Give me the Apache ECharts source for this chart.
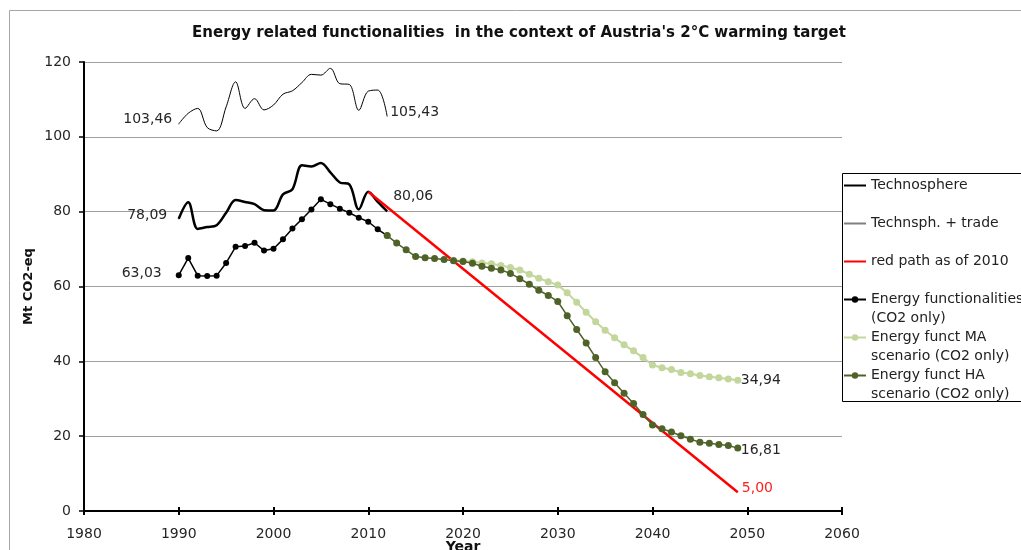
<!DOCTYPE html>
<html>
<head>
<meta charset="utf-8">
<script src="https://cdn.jsdelivr.net/npm/echarts@6/dist/echarts.min.js"></script>
<style>
  html, body { margin: 0; padding: 0; background: #fff; }
  #chart { width: 1021px; height: 550px; }
</style>
</head>
<body>
<div id="chart"></div>
<script>
// values
var histYears = [1990, 1991, 1992, 1993, 1994, 1995, 1996, 1997, 1998, 1999, 2000,
  2001, 2002, 2003, 2004, 2005, 2006, 2007, 2008, 2009, 2010, 2011, 2012];
var technosphere = [78.09, 82.5, 75.4, 75.9, 76.4, 79.7, 83.1, 82.6, 82.0, 80.4, 80.3,
  84.6, 86.0, 92.4, 92.1, 93.0, 90.5, 87.8, 87.3, 80.6, 85.3, 82.6, 80.06];
var technTrade = [103.46, 106.3, 107.6, 102.5, 101.6, 108.0, 114.7, 107.6, 110.2, 107.2, 108.5,
  111.4, 112.3, 114.5, 116.7, 116.5, 118.3, 114.2, 114.0, 107.1, 112.2, 112.5, 105.43];
var energyFunc = [63.03, 67.6, 62.9, 62.8, 62.9, 66.3, 70.6, 70.8, 71.7, 69.6, 70.1,
  72.6, 75.5, 78.0, 80.6, 83.3, 82.0, 80.8, 79.7, 78.4, 77.3, 75.3, 73.6];

var redYears = [2010, 2049];
var redPath = [85.3, 5.00];

var haStart = 2012;
var energyHA = [73.6, 71.6, 69.8, 68.0, 67.7, 67.5, 67.2, 66.9, 66.7, 66.2,
  65.4, 64.9, 64.4, 63.5, 62.1, 60.6, 59.0, 57.6, 56.0, 52.2,
  48.5, 44.9, 41.0, 37.2, 34.3, 31.5, 28.7, 25.8, 23.0, 22.0,
  21.1, 20.1, 19.2, 18.4, 18.1, 17.8, 17.5, 16.81];
var maStart = 2019;
var energyMA = [67.0, 66.8, 66.6, 66.3, 66.1, 65.6, 65.1, 64.4, 63.3, 62.2,
  61.3, 60.4, 58.3, 55.8, 53.1, 50.6, 48.3, 46.3, 44.4, 42.8,
  41.0, 39.0, 38.3, 37.8, 37.0, 36.7, 36.2, 35.9, 35.6, 35.3, 34.94];

var seriesNames = ['Technosphere', 'Technsph. + trade', 'red path as of 2010',
  'Energy functionalities (CO2 only)', 'Energy funct MA scenario (CO2 only)',
  'Energy funct HA scenario (CO2 only)'];
var legendLines = {
  'Technosphere': ['Technosphere', ' '],
  'Technsph. + trade': ['Technsph. + trade', ' '],
  'red path as of 2010': ['red path as of 2010', ' '],
  'Energy functionalities (CO2 only)': ['Energy functionalities', '(CO2 only)'],
  'Energy funct MA scenario (CO2 only)': ['Energy funct MA', 'scenario (CO2 only)'],
  'Energy funct HA scenario (CO2 only)': ['Energy funct HA', 'scenario (CO2 only)']
};
// series drawn as plain lines get no dot in the legend
var noDot = { 'Technosphere': 1, 'Technsph. + trade': 1, 'red path as of 2010': 1 };

var FONT = 'DejaVu Sans';

function fmt(v) { return v.toFixed(2).replace('.', ','); }

function pairs(years, vals) {
  return vals.map(function (v, i) { return [years[i], v]; });
}
function fromStart(start, vals) {
  return vals.map(function (v, i) { return [start + i, v]; });
}
// put a label on the first point of a series
function withStartLabel(data, lab, tinySymbol) {
  var first = { value: data[0], label: lab };
  if (tinySymbol) { first.symbol = 'circle'; first.symbolSize = 1; }
  return [first].concat(data.slice(1));
}

var labelBase = { show: false, fontFamily: FONT, fontSize: 14, color: '#262626',
  formatter: function (p) { return fmt(p.value[1]); } };

var chart = echarts.init(document.getElementById('chart'));

var option = {
  animation: false,
  backgroundColor: '#fff',
  title: {
    text: "Energy related functionalities  in the context of Austria's 2°C warming target",
    left: 519, top: 26, textAlign: 'center', padding: 0,
    textStyle: { fontFamily: FONT, fontWeight: 'bold', fontSize: 15, color: '#111' }
  },
  graphic: [
    { type: 'rect', z: -10, shape: { x: 9.5, y: 10.5, width: 1200, height: 700 },
      style: { fill: 'none', stroke: '#a6a6a6', lineWidth: 1 } },
    { type: 'rect', shape: { x: 842.5, y: 173.5, width: 300, height: 228 },
      style: { fill: 'none', stroke: '#000', lineWidth: 1 } }
  ],
  legend: {
    orient: 'vertical',
    left: 843, top: 157,
    padding: 0,
    itemWidth: 22, itemHeight: 8, itemGap: -19,
    data: seriesNames.map(function (n) {
      if (!noDot[n]) return { name: n };
      var item = { name: n, itemStyle: { opacity: 0 } };
      if (n === 'Technsph. + trade') item.lineStyle = { color: '#7f7f7f', width: 2 };
      return item;
    }),
    textStyle: { fontFamily: FONT, fontSize: 14, lineHeight: 19, color: '#222' },
    formatter: function (name) {
      var l = legendLines[name];
      return ' \n' + l[0] + '\n' + l[1];
    }
  },
  grid: { left: 84, right: 179, top: 62, bottom: 39, containLabel: false, outerBoundsMode: 'none' },
  xAxis: [{
    type: 'value', min: 1980, max: 2060, interval: 10,
    name: 'Year', nameLocation: 'middle', nameGap: 29, nameMoveOverlap: false,
    nameTextStyle: { fontFamily: FONT, fontWeight: 'bold', fontSize: 14, color: '#111' },
    axisLine: { lineStyle: { color: '#000', width: 2 } },
    axisTick: { length: 4, lineStyle: { color: '#000', width: 2 } },
    axisLabel: { fontFamily: FONT, fontSize: 14, color: '#262626', margin: 16,
      formatter: function (v) { return String(v); } },
    splitLine: { show: false }
  }, {
    type: 'value', min: 1980, max: 2060, interval: 10, position: 'bottom',
    axisLine: { show: false },
    axisTick: { inside: true, length: 4, lineStyle: { color: '#000', width: 2 } },
    axisLabel: { show: false },
    splitLine: { show: false }
  }],
  yAxis: {
    type: 'value', min: 0, max: 120, interval: 20,
    name: 'Mt CO2-eq', nameLocation: 'middle', nameGap: 49, nameMoveOverlap: false,
    nameTextStyle: { fontFamily: FONT, fontWeight: 'bold', fontSize: 13, color: '#111' },
    axisLine: { show: true, lineStyle: { color: '#000', width: 2 } },
    axisTick: { show: true, length: 5, lineStyle: { color: '#000', width: 1.5 } },
    axisLabel: { fontFamily: FONT, fontSize: 14, color: '#262626', margin: 13 },
    splitLine: { lineStyle: { color: '#a0a0a0', width: 1 } }
  },
  series: [
    {
      name: seriesNames[0], type: 'line', smooth: 0.35, symbol: 'none',
      lineStyle: { color: '#000', width: 2.5 }, itemStyle: { color: '#000' },
      label: labelBase,
      data: withStartLabel(pairs(histYears, technosphere),
        { show: true, position: 'left', distance: 11, offset: [0, -3] }, true),
      endLabel: { show: true, fontFamily: FONT, fontSize: 14, color: '#262626', distance: 6,
        offset: [0, -15], formatter: function (p) { return fmt(p.value[1]); } },
      z: 3
    },
    {
      name: seriesNames[1], type: 'line', smooth: 0.35, symbol: 'none',
      lineStyle: { color: '#000', width: 1 }, itemStyle: { color: '#7f7f7f' },
      label: labelBase,
      data: withStartLabel(pairs(histYears, technTrade),
        { show: true, position: 'left', distance: 6, offset: [0, -5] }, true),
      endLabel: { show: true, fontFamily: FONT, fontSize: 14, color: '#262626', distance: 3,
        offset: [0, -4], formatter: function (p) { return fmt(p.value[1]); } },
      z: 3
    },
    {
      name: seriesNames[2], type: 'line', symbol: 'none',
      lineStyle: { color: '#ff0000', width: 2.5 }, itemStyle: { color: '#ff0000' },
      data: pairs(redYears, redPath),
      endLabel: { show: true, fontFamily: FONT, fontSize: 14, color: '#ff2020', distance: 4,
        offset: [0, -4], formatter: function (p) { return fmt(p.value[1]); } },
      z: 3
    },
    {
      name: seriesNames[3], type: 'line', symbol: 'circle', symbolSize: 6,
      lineStyle: { color: '#000', width: 1.5 }, itemStyle: { color: '#000' },
      label: labelBase,
      data: withStartLabel(pairs(histYears, energyFunc),
        { show: true, position: 'left', distance: 14, offset: [0, -2] }, false),
      z: 4
    },
    {
      name: seriesNames[4], type: 'line', symbol: 'circle', symbolSize: 7,
      lineStyle: { color: '#c3d69b', width: 2 }, itemStyle: { color: '#c3d69b' },
      data: fromStart(maStart, energyMA),
      endLabel: { show: true, fontFamily: FONT, fontSize: 14, color: '#262626', distance: 3,
        formatter: function (p) { return fmt(p.value[1]); } },
      z: 5
    },
    {
      name: seriesNames[5], type: 'line', symbol: 'circle', symbolSize: 7,
      lineStyle: { color: '#4f6228', width: 1.5 }, itemStyle: { color: '#4f6228' },
      data: fromStart(haStart, energyHA),
      endLabel: { show: true, fontFamily: FONT, fontSize: 14, color: '#262626', distance: 3,
        offset: [0, 2], formatter: function (p) { return fmt(p.value[1]); } },
      z: 6
    }
  ]
};

chart.setOption(option);
</script>
</body>
</html>
